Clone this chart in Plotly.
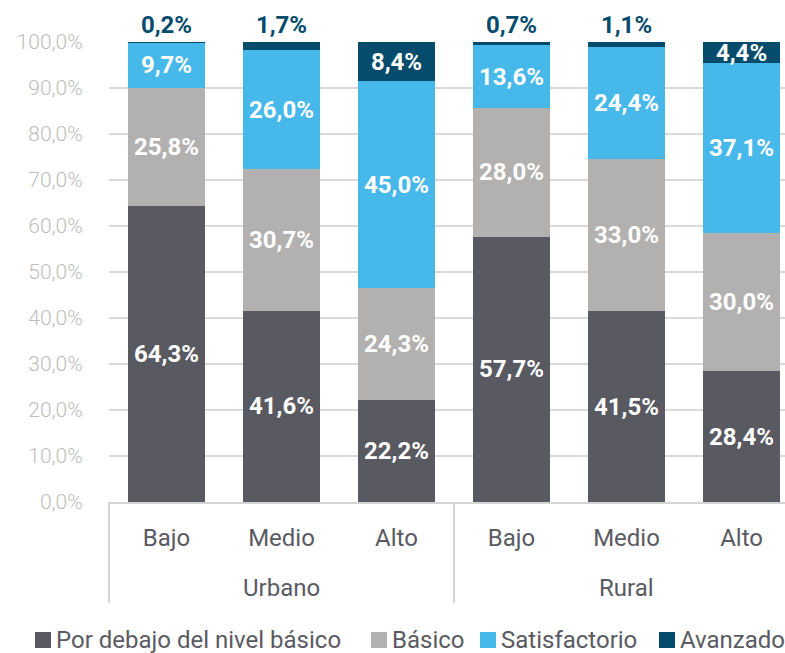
import plotly.graph_objects as go

zonas = ["Urbano", "Urbano", "Urbano", "Rural", "Rural", "Rural"]
niveles = ["Bajo", "Medio", "Alto", "Bajo", "Medio", "Alto"]

por_debajo = [64.3, 41.6, 22.2, 57.7, 41.5, 28.4]
basico = [25.8, 30.7, 24.3, 28.0, 33.0, 30.0]
satisfactorio = [9.7, 26.0, 45.0, 13.6, 24.4, 37.1]
avanzado = [0.2, 1.7, 8.4, 0.7, 1.1, 4.4]

series = [
    ("Por debajo del nivel básico", por_debajo, "#595962"),
    ("Básico", basico, "#b2b1b0"),
    ("Satisfactorio", satisfactorio, "#47b8ea"),
    ("Avanzado", avanzado, "#044b6c"),
]

def fmt(v):
    return f"{v:.1f}".replace(".", ",") + "%"

W, H = 785, 653
ML, MR, MT, MB = 109, 0, 42, 151
PW, PH = W - ML - MR, H - MT - MB
XR = [-0.5, 5.378]

def px2x(px):
    return (px - ML) / PW

def py2y(py):
    return (H - MB - py) / PH

FONT = "Roboto"
TXT = "#5a5a62"
LINE = "#d4d4d4"
idx = list(range(len(niveles)))

fig = go.Figure()
for name, vals, color in series:
    if name == "Avanzado":
        pos = ["inside" if v > 3 else "outside" for v in vals]
        tcol = ["#ffffff" if v > 3 else color for v in vals]
    else:
        pos = ["inside"] * len(vals)
        tcol = ["#ffffff"] * len(vals)
    fig.add_trace(go.Bar(
        name=name,
        x=idx,
        y=vals,
        marker=dict(color=color, line=dict(width=0)),
        text=[fmt(v) for v in vals],
        textposition=pos,
        insidetextanchor="middle",
        constraintext="none",
        textfont=dict(family=FONT, size=24, color=tcol, weight="bold"),
        textangle=0,
        cliponaxis=False,
        hoverinfo="skip",
        showlegend=False,
    ))

# group labels and dividers (second level of the category axis)
groups = []
for i, z in enumerate(zonas):
    if not groups or groups[-1][0] != z:
        groups.append([z, i, i])
    else:
        groups[-1][2] = i
bounds = sorted({g[1] - 0.5 for g in groups} | {g[2] + 0.5 for g in groups})
for z, i0, i1 in groups:
    fig.add_annotation(xref="x", yref="paper", x=(i0 + i1) / 2, y=py2y(588),
                       text=z, showarrow=False, yanchor="middle",
                       font=dict(family=FONT, size=24, color=TXT))
for b in bounds:
    xp = (b - XR[0]) / (XR[1] - XR[0])
    if xp <= 1.0:
        fig.add_shape(type="line", xref="paper", yref="paper",
                      x0=xp, x1=xp, y0=0, y1=py2y(603),
                      line=dict(color=LINE, width=2))

# legend drawn as squares + labels below the plot
leg_x = [35, 371, 480, 659]
leg_y = 640
for (name, vals, color), lx in zip(series, leg_x):
    fig.add_shape(type="rect", xref="paper", yref="paper",
                  x0=px2x(lx), x1=px2x(lx + 16),
                  y0=py2y(leg_y + 8), y1=py2y(leg_y - 8),
                  fillcolor=color, line=dict(width=0))
    fig.add_annotation(xref="paper", yref="paper",
                       x=px2x(lx + 19), y=py2y(leg_y),
                       xanchor="left", yanchor="middle",
                       text=name, showarrow=False,
                       font=dict(family=FONT, size=24, color=TXT))

fig.update_layout(
    barmode="stack",
    bargap=0.33,
    width=W,
    height=H,
    margin=dict(l=ML, r=MR, t=MT, b=MB, autoexpand=False),
    paper_bgcolor="white",
    plot_bgcolor="white",
    font=dict(family=FONT, color=TXT),
    showlegend=False,
    separators=",.",
)
fig.update_yaxes(
    range=[0, 100],
    dtick=10,
    tickformat=".1f",
    ticksuffix="%",
    showgrid=True,
    gridcolor="#d9d9d9",
    gridwidth=2,
    zeroline=False,
    showline=False,
    ticks="outside",
    ticklen=21,
    tickcolor="rgba(0,0,0,0)",
    tickfont=dict(family=FONT, size=21, color="#bdbdbd", weight=300),
    automargin=False,
)
fig.update_xaxes(
    range=XR,
    tickmode="array",
    tickvals=idx,
    ticktext=niveles,
    showgrid=False,
    zeroline=False,
    showline=True,
    linecolor=LINE,
    linewidth=2,
    tickfont=dict(family=FONT, size=24, color=TXT),
    ticks="outside",
    ticklen=13,
    tickcolor="rgba(0,0,0,0)",
    automargin=False,
)

fig.write_html(
    "out.html",
    config={"displayModeBar": False},
    post_script="document.body.style.margin='0';document.body.style.overflow='hidden';",
)
